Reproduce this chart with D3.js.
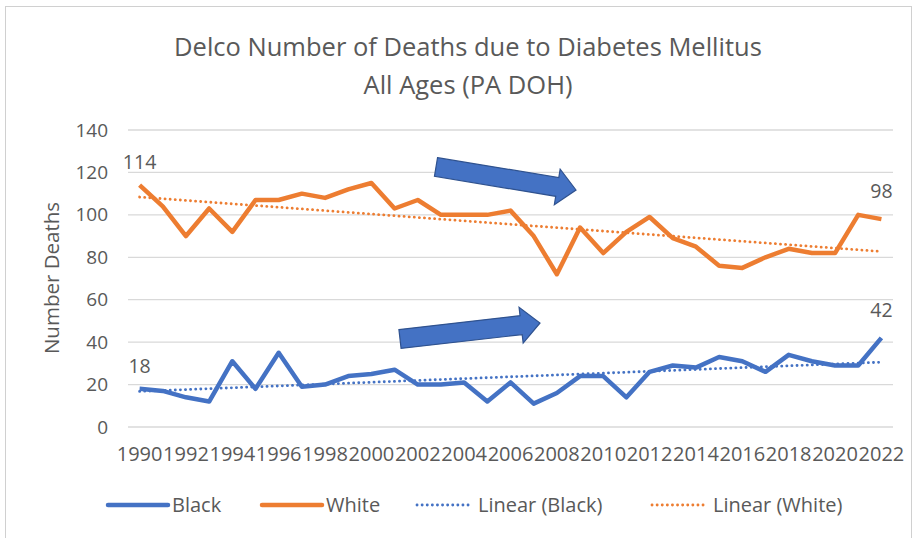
<!DOCTYPE html>
<html>
<head>
<meta charset="utf-8">
<script src="https://cdn.jsdelivr.net/npm/d3@7"></script>
<style>
  body { margin: 0; background: #fff; }
  text { font-family: "Open Sans", "Liberation Sans", sans-serif; fill: #595959; }
</style>
</head>
<body>
<svg id="chart" width="914" height="538"></svg>
<script>
const width = 914, height = 538;

const years = d3.range(1990, 2023);
const black = [18, 17, 14, 12, 31, 18, 35, 19, 20, 24, 25, 27, 20, 20, 21, 12, 21, 11, 16, 24, 24, 14, 26, 29, 28, 33, 31, 26, 34, 31, 29, 29, 42];
const white = [114, 104, 90, 103, 92, 107, 107, 110, 108, 112, 115, 103, 107, 100, 100, 100, 102, 90, 72, 94, 82, 92, 99, 89, 85, 76, 75, 80, 84, 82, 82, 100, 98];
const yTicks = [0, 20, 40, 60, 80, 100, 120, 140];
const tickYears = years.filter(y => y % 2 === 0);

const blue = "#4472C4", orange = "#ED7D31";

const svg = d3.select("#chart");

// chart frame
svg.append("rect")
  .attr("x", 5.5).attr("y", 6.5)
  .attr("width", 906).attr("height", 540)
  .attr("fill", "none").attr("stroke", "#d0d0d0");

const x = d3.scaleBand().domain(years).range([128, 893]);
const y = d3.scaleLinear().domain([0, 140]).range([427, 130]);
const cx = d => x(d) + x.bandwidth() / 2;

// title
svg.append("text").attr("x", 468).attr("y", 56).attr("text-anchor", "middle")
  .style("font-size", "25.5px").text("Delco Number of Deaths due to Diabetes Mellitus");
svg.append("text").attr("x", 468).attr("y", 94).attr("text-anchor", "middle")
  .style("font-size", "25.5px").text("All Ages (PA DOH)");

// gridlines
svg.append("g").selectAll("line").data(yTicks).enter().append("line")
  .attr("x1", 128).attr("x2", 893)
  .attr("y1", d => y(d)).attr("y2", d => y(d))
  .attr("stroke", "#d9d9d9").attr("stroke-width", 1.3);

// y axis labels
const yAxis = svg.append("g").attr("transform", "translate(128,0)")
  .call(d3.axisLeft(y).tickValues(yTicks).tickSize(0).tickPadding(20));
yAxis.select(".domain").remove();
yAxis.selectAll("text").style("font-size", "19px").attr("fill", "#595959")
  .style("font-family", '"Open Sans", "Liberation Sans", sans-serif');

svg.append("text")
  .attr("transform", "translate(59,278) rotate(-90)")
  .attr("text-anchor", "middle")
  .style("font-size", "20.5px").text("Number Deaths");

// x axis labels
const xAxis = svg.append("g").attr("transform", "translate(0,427)")
  .call(d3.axisBottom(x).tickValues(tickYears).tickSize(0).tickPadding(20));
xAxis.select(".domain").remove();
xAxis.selectAll("text").style("font-size", "20px").attr("fill", "#595959")
  .style("font-family", '"Open Sans", "Liberation Sans", sans-serif');

// linear trendlines (least squares, as Excel does)
function trend(vals) {
  const n = vals.length;
  const xs = d3.range(n);
  const mx = d3.mean(xs), my = d3.mean(vals);
  const b = d3.sum(xs, i => (i - mx) * (vals[i] - my)) / d3.sum(xs, i => (i - mx) ** 2);
  const a = my - b * mx;
  return [[years[0], a], [years[n - 1], a + b * (n - 1)]];
}

const line = d3.line().x(d => cx(d[0])).y(d => y(d[1]));

const series = [
  { vals: black, color: blue },
  { vals: white, color: orange }
];

series.forEach(s => {
  svg.append("path")
    .datum(trend(s.vals))
    .attr("d", line)
    .attr("fill", "none").attr("stroke", s.color)
    .attr("stroke-width", 2.8).attr("stroke-dasharray", "0.1,5")
    .attr("stroke-linecap", "round");
});

series.forEach(s => {
  svg.append("path")
    .datum(years.map((yr, i) => [yr, s.vals[i]]))
    .attr("d", line)
    .attr("fill", "none").attr("stroke", s.color)
    .attr("stroke-width", 4.5).attr("stroke-linejoin", "round");
});

// data labels on first and last points
const labels = [
  { yr: 1990, v: white[0], dy: -16 },
  { yr: 2022, v: white[white.length - 1], dy: -21 },
  { yr: 1990, v: black[0], dy: -16 },
  { yr: 2022, v: black[black.length - 1], dy: -21 }
];
svg.append("g").selectAll("text").data(labels).enter().append("text")
  .attr("x", d => cx(d.yr)).attr("y", d => y(d.v) + d.dy)
  .attr("text-anchor", "middle").style("font-size", "19.5px")
  .text(d => d.v);

// block arrows
function arrow(x0, y0, x1, y1) {
  const ang = Math.atan2(y1 - y0, x1 - x0) * 180 / Math.PI;
  const len = Math.hypot(x1 - x0, y1 - y0);
  const sw = 9.5, hw = 18, hl = 19;
  const pts = [[0, -sw], [len - hl, -sw], [len - hl, -hw], [len, 0], [len - hl, hw], [len - hl, sw], [0, sw]];
  svg.append("polygon")
    .attr("points", pts.map(p => p.join(",")).join(" "))
    .attr("transform", `translate(${x0},${y0}) rotate(${ang})`)
    .attr("fill", blue).attr("stroke", "#2F528F").attr("stroke-width", 1.2);
}
arrow(436, 167, 576, 190);
arrow(400, 339, 540, 323);

// legend
const legend = [
  { label: "Black", color: blue, dotted: false, x: 106 },
  { label: "White", color: orange, dotted: false, x: 260 },
  { label: "Linear (Black)", color: blue, dotted: true, x: 415 },
  { label: "Linear (White)", color: orange, dotted: true, x: 650 }
];
const lg = svg.append("g").selectAll("g").data(legend).enter().append("g")
  .attr("transform", d => `translate(${d.x},505)`);
lg.append("line")
  .attr("x1", 2).attr("x2", d => d.dotted ? 56 : 62)
  .attr("stroke", d => d.color)
  .attr("stroke-width", d => d.dotted ? 2.8 : 4.5)
  .attr("stroke-linecap", "round")
  .attr("stroke-dasharray", d => d.dotted ? "0.1,5" : null);
lg.append("text")
  .attr("x", d => d.dotted ? 63 : 66).attr("y", 7)
  .style("font-size", "20px").text(d => d.label);
</script>
</body>
</html>
